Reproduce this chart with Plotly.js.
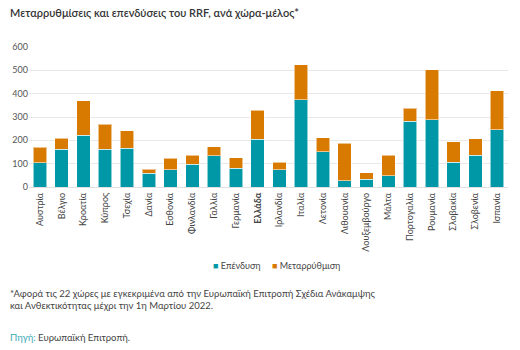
<!DOCTYPE html>
<html>
<head>
<meta charset="utf-8">
<script src="https://cdn.plot.ly/plotly-3.0.1.min.js"></script>
<style>html,body{margin:0;padding:0;background:#fff;}#chart{width:520px;height:350px;}</style>
</head>
<body>
<div id="chart"></div>
<script>
const countries = ["Αυστρία","Βέλγιο","Κροατία","Κύπρος","Τσεχία","Δανία","Εσθονία","Φινλανδία","Γαλλία","Γερμανία","Ελλάδα","Ιρλανδία","Ιταλία","Λετονία","Λιθουανία","Λουξεμβούργο","Μάλτα","Πορτογαλία","Ρουμανία","Σλοβακία","Σλοβενία","Ισπανία"];
const investment = [103,161,221,161,167,58,74,98,133,81,205,73,373,151,26,34,48,282,289,107,137,245];
const reform = [67,47,148,107,75,18,49,39,39,44,123,34,150,61,161,27,89,56,214,88,70,167];
const yTicks = [0,100,200,300,400,500,600];
const seriesNames = ["Επένδυση","Μεταρρύθμιση"];
const seriesColors = ["#0098a6","#d87900"];

const tickText = countries.map(c => c === "Ελλάδα" ? "<b>" + c + "</b>" : c);
const FONT = "Lato, 'Noto Sans', sans-serif";

const traces = [
  {type:"bar", name:seriesNames[0], x:countries, y:investment, showlegend:false,
   marker:{color:seriesColors[0], line:{color:"rgba(255,255,255,0.55)", width:1}}},
  {type:"bar", name:seriesNames[1], x:countries, y:reform, showlegend:false,
   marker:{color:seriesColors[1], line:{color:"rgba(255,255,255,0.55)", width:1}}}
];

const legendText = seriesNames.map((n,i) =>
  "<span style='color:" + seriesColors[i] + "'>■</span> " + n).join("&nbsp;&nbsp;&nbsp;&nbsp;&nbsp;");

const layout = {
  width:520, height:350,
  margin:{l:29, r:12, t:47, b:163},
  barmode:"stack", bargap:0.38,
  paper_bgcolor:"#fff", plot_bgcolor:"#fff",
  font:{family:FONT, size:9, color:"#444"},
  title:{text:"Μεταρρυθμίσεις και επενδύσεις του RRF, ανά χώρα-μέλος*",
    font:{family:FONT, size:11, color:"#333", weight:600},
    xref:"container", yref:"container", x:10/520, xanchor:"left", y:1-13/350, yanchor:"middle"},
  xaxis:{tickmode:"array", tickvals:countries, ticktext:tickText, tickangle:-90,
    showgrid:false, zeroline:false, showline:false, ticks:"", ticklabelstandoff:3,
    tickfont:{size:9, color:"#444"}},
  yaxis:{range:[0,600], tickmode:"array", tickvals:yTicks, showgrid:true, gridcolor:"#e8e8e8",
    gridwidth:1, zeroline:true, zerolinecolor:"#e0e0e0", ticks:"", tickfont:{size:9, color:"#555"}},
  showlegend:false,
  annotations:[
    {xref:"paper", yref:"paper", x:(276-29)/479, xanchor:"center", y:(187-265)/140, yanchor:"middle",
     showarrow:false, font:{size:9, color:"#444"}, text:legendText},
    {xref:"paper", yref:"paper", x:-21/479, xanchor:"left", y:(187-286)/140, yanchor:"top",
     align:"left", showarrow:false, font:{size:9.5, color:"#444"},
     text:"*Αφορά τις 22 χώρες με εγκεκριμένα από την Ευρωπαϊκή Επιτροπή Σχέδια Ανάκαμψης<br>και Ανθεκτικότητας μέχρι την 1η Μαρτίου 2022."},
    {xref:"paper", yref:"paper", x:-21/479, xanchor:"left", y:(187-338)/140, yanchor:"middle",
     align:"left", showarrow:false, font:{size:9.5, color:"#444"},
     text:"<span style='color:#3aaab5'>Πηγή:</span> Ευρωπαϊκή Επιτροπή."}
  ]
};

Plotly.newPlot("chart", traces, layout, {displayModeBar:false, staticPlot:true});
</script>
</body>
</html>
